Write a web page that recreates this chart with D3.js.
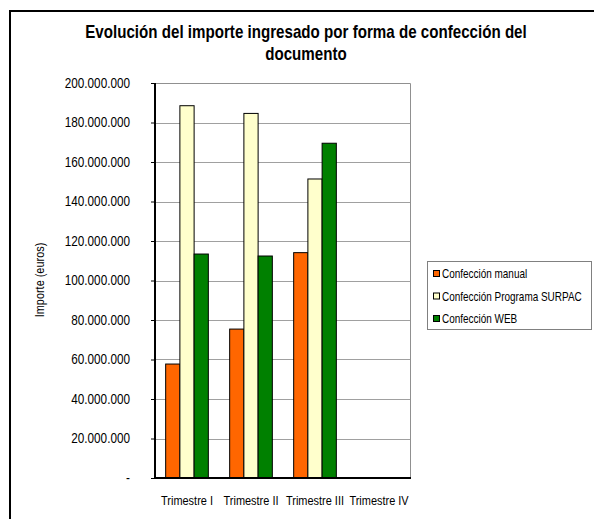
<!DOCTYPE html>
<html><head><meta charset="utf-8">
<script src="https://cdn.jsdelivr.net/npm/d3@7"></script>
<style>body{margin:0;background:#fff;}svg{display:block;font-family:"Liberation Sans",Arial,sans-serif;}</style>
</head><body>
<svg id="c" width="594" height="519"></svg>
<script>
const categories = ["Trimestre I", "Trimestre II", "Trimestre III", "Trimestre IV"];
const seriesNames = ["Confección manual", "Confección Programa SURPAC", "Confección WEB"];
const manual = [57700000, 75400000, 114100000, null];
const surpac = [188500000, 184600000, 151400000, null];
const web = [113400000, 112400000, 169500000, null];
const colors = ["#FF6600", "#FFFFCC", "#008000"];
const yTicks = [0, 20000000, 40000000, 60000000, 80000000, 100000000, 120000000, 140000000, 160000000, 180000000, 200000000];
const title = ["Evolución del importe ingresado por forma de confección del", "documento"];
const yTitle = "Importe (euros)";

// condense text horizontally with a scale transform (no narrow font available)
function condense(sel, f) {
  sel.each(function(){
    const t = d3.select(this);
    const x0 = +(t.attr("x") || 0);
    const tr = t.attr("transform") || "";
    t.attr("x", x0 / f).attr("transform", (tr ? tr + " " : "") + `scale(${f},1)`);
  });
}

const series = [manual, surpac, web];
const svg = d3.select("#c");
svg.append("path").attr("d","M10,530 V11 H600").attr("fill","none").attr("stroke","#000").attr("stroke-width",2);

const L=155, R=411, T=83, B=478;
const x = d3.scaleBand().domain(categories).range([L,R]).paddingInner(0).paddingOuter(0);
const y = d3.scaleLinear().domain([0,200000000]).range([B,T]);

const g = svg.append("g");
g.selectAll("line.grid").data(yTicks.filter(d=>d>0 && d<200000000)).join("line")
  .attr("x1",L).attr("x2",R).attr("y1",d=>Math.round(y(d))+0.5).attr("y2",d=>Math.round(y(d))+0.5)
  .attr("stroke","#a0a0a0").attr("stroke-width",1);
g.append("path").attr("d",`M${L},${T+0.5} H${R-0.5} V${B}`).attr("fill","none").attr("stroke","#909090").attr("stroke-width",1);

const gap = x.bandwidth()*1.5/4.5/2;
const x1 = d3.scaleBand().domain(d3.range(3)).range([gap, x.bandwidth()-gap]).padding(0);
categories.forEach((c,ci)=>{
  series.forEach((s,si)=>{
    const v = s[ci];
    if (v==null) return;
    g.append("rect")
      .attr("x", x(c)+x1(si)).attr("width", x1.bandwidth())
      .attr("y", y(v)).attr("height", y(0)-y(v))
      .attr("fill", colors[si]).attr("stroke","#000").attr("stroke-width",1);
  });
});

g.append("path").attr("d",`M${L},${T} V${B} H${R}`).attr("fill","none").attr("stroke","#000").attr("stroke-width",2);

const yAxis = d3.axisLeft(y).tickValues(yTicks).tickSize(4)
  .tickFormat(d=> d===0 ? "-" : d3.format(",")(d).replace(/,/g,"."));
const ya = svg.append("g").attr("transform",`translate(${L},0)`).call(yAxis);
ya.select(".domain").remove();
ya.selectAll(".tick line").attr("stroke","#000").attr("x2",-4);
ya.selectAll(".tick text").attr("x",-25).attr("font-size",14).attr("fill","#000").attr("font-family",null);
condense(ya.selectAll(".tick text"), 0.84);

const xAxis = d3.axisBottom(x).tickSize(0);
const xa = svg.append("g").attr("transform",`translate(0,${B})`).call(xAxis);
xa.select(".domain").remove();
xa.selectAll(".tick text").attr("dy",0).attr("y",27).attr("font-size",13.2).attr("fill","#000").attr("font-family",null);
condense(xa.selectAll(".tick text"), 0.83);

const yt = svg.append("text").attr("transform","translate(44,280) rotate(-90)").attr("text-anchor","middle")
  .attr("font-size",13).text(yTitle);
condense(yt, 0.84);

const tt = svg.append("g").selectAll("text").data(title).join("text")
  .attr("x",306).attr("y",(d,i)=>38+i*22).attr("text-anchor","middle")
  .attr("font-size",17.5).attr("font-weight","bold").text(d=>d);
condense(tt, 0.865);

const lg = svg.append("g");
lg.append("rect").attr("x",427.5).attr("y",261.5).attr("width",164).attr("height",68).attr("fill","#fff").attr("stroke","#808080");
seriesNames.forEach((n,i)=>{
  const cy = 274 + i*22.5;
  lg.append("rect").attr("x",433.5).attr("y",cy-3.5).attr("width",6).attr("height",6).attr("fill",colors[i]).attr("stroke","#000");
  const t = lg.append("text").attr("x",442).attr("y",cy+4.5).attr("font-size",12).text(n);
  condense(t, 0.83);
});
</script>
</body></html>
